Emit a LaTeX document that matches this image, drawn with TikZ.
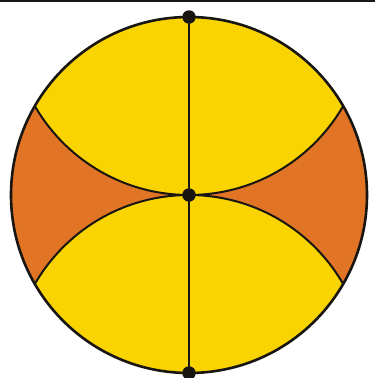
\documentclass[tikz,border=0pt]{standalone}
\definecolor{yel}{RGB}{250,212,0}
\definecolor{org}{RGB}{226,116,38}
\definecolor{ink}{RGB}{25,22,18}
\begin{document}
\begin{tikzpicture}[x=1pt,y=-1pt,
  dot/.style={circle,fill=ink,inner sep=0pt,minimum size=13.5pt},
  rim/.style={draw=ink,line width=2.6pt},
  arcline/.style={draw=ink,line width=2pt}]
\useasboundingbox (0,0) rectangle (375,378);
\fill[white] (0,0) rectangle (375,378);
\coordinate (T) at (189,17);
\coordinate (C) at (189,195);
\coordinate (B) at (189,373);
\coordinate (L) at (0,1.2);
\coordinate (R) at (375,1.2);
\fill[org] (C) circle[radius=178pt];
\begin{scope}
  \clip (C) circle[radius=178pt];
  \fill[yel] (T) circle[radius=178pt];
  \fill[yel] (B) circle[radius=178pt];
  \path[arcline] (T) circle[radius=178pt] (B) circle[radius=178pt];
\end{scope}
\path[rim] (C) circle[radius=178pt];
\draw[ink,line width=2.6pt] (T) -- (B);
\draw[ink,line width=2.4pt] (L) -- (R);
\node[dot] (t) at (T) {};
\node[dot] (c) at (C) {};
\node[dot] (b) at (B) {};
\end{tikzpicture}
\end{document}
